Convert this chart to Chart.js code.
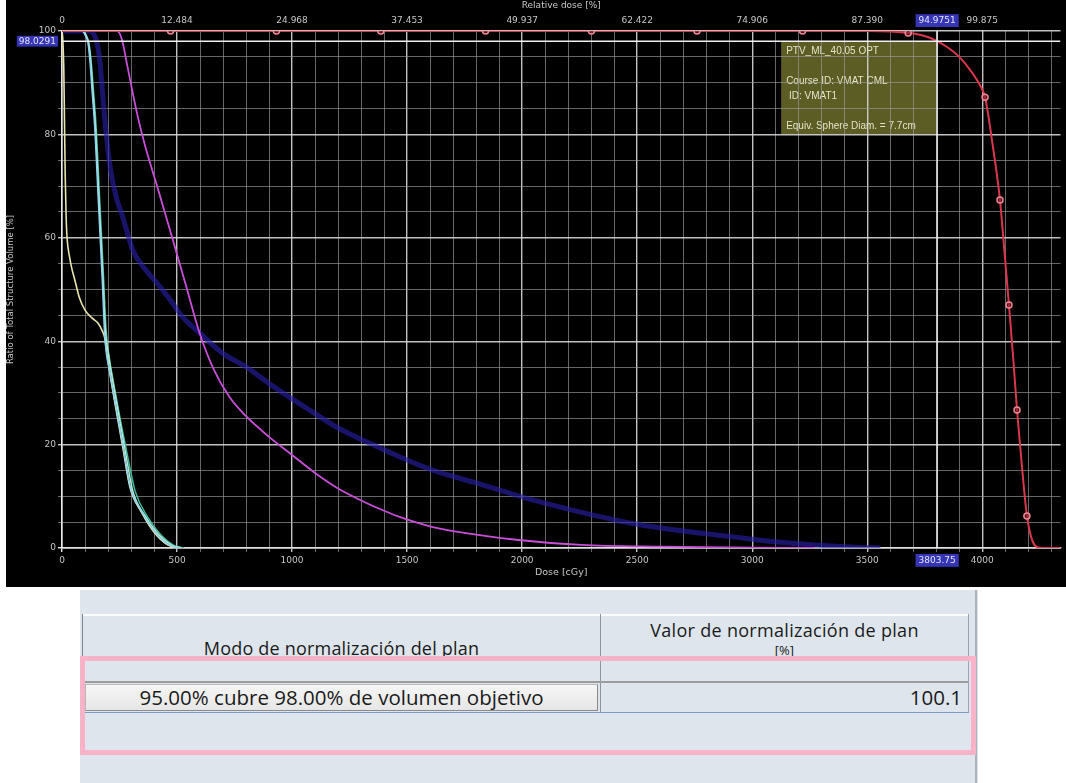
<!DOCTYPE html>
<html><head><meta charset="utf-8">
<script src="https://cdn.jsdelivr.net/npm/chart.js@4"></script>
<style>
html,body{margin:0;padding:0;background:#fff;width:1066px;height:783px;overflow:hidden;}
#plot{position:absolute;left:6px;top:0;width:1060px;height:587px;background:#000;}
#panel{position:absolute;left:80px;top:590px;width:898px;height:193px;background:#dee5ed;font-family:'Open Sans',sans-serif;color:#1b1b1b;}
#panel div{position:absolute;box-sizing:border-box;}
.t{font-size:18px;line-height:22px;white-space:nowrap;}
</style></head>
<body>
<div id="plot"><canvas id="c" width="1060" height="587"></canvas></div>
<div id="panel">
  <div style="left:2px;top:24px;width:886px;height:2px;background:#fbfcfd"></div>
  <div style="left:2px;top:24px;width:1px;height:99px;background:#7b838c"></div>
  <div style="left:520px;top:24px;width:1px;height:99px;background:#8d96a0"></div>
  <div style="left:888px;top:24px;width:1px;height:99px;background:#9ba4ae"></div>
  <div style="left:895px;top:0;width:2px;height:193px;background:#aab3bd"></div>
  <div style="left:3px;top:91px;width:885px;height:2px;background:#9c9c9c"></div>
  <div class="t" style="left:3px;width:517px;top:47px;text-align:center;letter-spacing:0.2px">Modo de normalización del plan</div>
  <div class="t" style="left:521px;width:367px;top:29px;text-align:center;letter-spacing:0.3px">Valor de normalización de plan</div>
  <div class="t" style="left:521px;width:367px;top:49px;text-align:center;font-size:13px">[%]</div>
  <div style="left:5px;top:94px;width:513px;height:27px;background:linear-gradient(#f6f6f6,#e6e6e6);border:1px solid #b8b8b8;border-right-color:#8a8a8a;border-bottom-color:#8a8a8a"></div>
  <div class="t" style="left:5px;width:513px;top:95px;text-align:center;font-size:20.5px;line-height:24px">95.00% cubre 98.00% de volumen objetivo</div>
  <div class="t" style="left:521px;width:361px;top:95px;text-align:right;font-size:20.5px;line-height:24px">100.1</div>
  <div style="left:3px;top:122px;width:886px;height:1px;background:#7e9bc3"></div>
  <div style="left:0;top:66px;width:896px;height:99px;border:5px solid #f8b3c9"></div>
</div>
<script>
// ---- data (dose in cGy, volume in %) ----
const doseMajorTicks = [0,500,1000,1500,2000,2500,3000,3500,4000];
const relativeTickLabels = ['0','12.484','24.968','37.453','49.937','62.422','74.906','87.390','99.875'];
const cursorDose = 3803.75;
const cursorVolume = 98.0291;
const cursorRelativeLabel = '94.9751';
const doseMax = 4340;

const ptvDose   = [0,3500,3600,3700,3760,3803.75,3850,3900,3950,3990,4012,4045,4077,4097,4116,4134,4151,4172,4194,4210,4225,4245,4260,4340];
const ptvVolume = [100,100,99.9,99.5,98.9,98.03,96.8,95,92.3,89.5,87.2,78,67.3,57,47,37,26.7,16,6.2,2.5,0.7,0.1,0,0];
const ptvMarkerDose   = [472,932,1386,1841,2301,2760,3219,3678,4012,4077,4116,4151,4194];
const ptvMarkerVolume = [100,100,100,100,100,100,100,99.6,87.2,67.3,47,26.7,6.2];

const cyanDose   = [0,88,100,113,122,130,143,155,165,175,186,210,240,266,297,350,408,465,510];
const cyanVolume = [100,100,99.3,97.7,94,89,81,70,61,52,41,33.5,26,19.5,11.8,6.8,2.9,0.6,0];

const mintDose   = [0,90,103,116,125,133,146,158,168,178,189,200,222,250,276,308,360,420,478,520];
const mintVolume = [100,100,99.3,97.5,94,89,81,70,61,52,42,38,32,25,18.5,11,6.3,2.6,0.5,0];

const tealDose   = [0,92,105,118,127,136,149,161,171,181,192,205,228,257,284,318,372,432,490,530];
const tealVolume = [100,100,99.2,97.4,94,89,81,70,61,52,42,37,31,24,18,11,6,2.4,0.4,0];

const yellowDose   = [0,4,8,11,14,18,22,32,43,56,75,100,130,156,175,186,197,208,238,264,295,347,403,459,503];
const yellowVolume = [100,98,92,82,72,64,60,56.5,54,51.8,48.5,46,44.5,43.5,42,40.6,37,33.8,26,19.5,11.8,6.8,2.9,0.6,0];

const magentaDose   = [0,240,250,260,270,285,303,330,360,420,481,540,598,660,728,800,900,1000,1100,1200,1300,1400,1464,1607,1800,1984,2257,2600,3000,3271];
const magentaVolume = [100,100,99.6,98.4,96.5,93,89,83.3,78,69,59.7,50.6,41.6,34.5,29.2,25.5,21.5,18,14.5,11.5,9.2,7.2,6.05,4.1,2.6,1.55,0.6,0.25,0.08,0];

const blueDose   = [0,120,150,165,178,190,208,235,264,308,360,412,470,524,598,700,802,900,988,1100,1200,1350,1464,1607,1800,1998,2250,2475,2700,2907,3100,3271,3450,3557];
const blueVolume = [100,100,98,94,87,81,74,68,64,57.6,54,51.3,48,44.7,41.6,37.6,35,31.8,29.2,26,23.2,20,17.7,15.1,12.6,9.9,7,4.8,3.3,2.2,1.2,0.6,0.15,0];

const infoLines = ['PTV_ML_40.05 OPT','','Course ID: VMAT CML',' ID: VMAT1','','Equiv. Sphere Diam. = 7.7cm'];

// ---- helpers ----
const pts = (xs, ys) => xs.map((x, i) => ({x, y: ys[i]}));
const curve = (label, xs, ys, color, width) => ({
  label, data: pts(xs, ys), borderColor: color, borderWidth: width,
  pointRadius: 0, cubicInterpolationMode: 'monotone', fill: false
});
const tickColor = '#c6c6c6';
const tickFont = {family: 'DejaVu Sans', size: 9};
const hiBlue = '#3535b5';

const infoBoxPlugin = {
  id: 'infoBox',
  beforeDraw(chart) {
    const {ctx, scales} = chart;
    const right = scales.x.getPixelForValue(cursorDose);
    const top = scales.y.getPixelForValue(cursorVolume);
    const w = 156, h = 93;
    ctx.save();
    ctx.fillStyle = 'rgba(118,118,48,0.78)';
    ctx.fillRect(right - w, top, w, h);
    ctx.fillStyle = '#e4e4c6';
    ctx.font = '10px "Liberation Sans"';
    ctx.textBaseline = 'middle';
    infoLines.forEach((s, i) => { if (s) ctx.fillText(s, right - w + 5, top + 10 + i * 15); });
    ctx.restore();
  }
};

const datasets = [
  {label:'cursorV', data: pts([cursorDose, cursorDose],[0,100]), borderColor:'#f2f2f2', borderWidth:1.5, pointRadius:0, tension:0},
  {label:'cursorH', data: pts([0, doseMax],[cursorVolume, cursorVolume]), borderColor:'#f2f2f2', borderWidth:1.5, pointRadius:0, tension:0},
  {label:'PTV markers', data: pts(ptvMarkerDose, ptvMarkerVolume), showLine:false, pointRadius:3, pointStyle:'circle',
   pointBorderColor:'#ee8596', pointBackgroundColor:'rgba(120,30,40,0.6)', pointBorderWidth:1.5},
  curve('PTV_ML_40.05 OPT', ptvDose, ptvVolume, '#d9374b', 2),
  curve('cyan', cyanDose, cyanVolume, '#8fd3ee', 1.6),
  curve('mint', mintDose, mintVolume, '#b4ecd2', 1.5),
  curve('teal', tealDose, tealVolume, '#3fb79c', 1.5),
  curve('yellow', yellowDose, yellowVolume, '#e8e4ac', 1.6),
  curve('magenta', magentaDose, magentaVolume, '#c84ed8', 1.8),
  curve('blue', blueDose, blueVolume, 'rgba(40,32,170,0.62)', 5)
];

new Chart(document.getElementById('c'), {
  type: 'line',
  data: { datasets },
  plugins: [infoBoxPlugin],
  options: {
    responsive: false, animation: false, parsing: true,
    layout: { padding: { right: 2, left: 0, top: 0, bottom: 0 } },
    plugins: { legend: {display:false}, tooltip: {enabled:false} },
    scales: {
      x: {
        type: 'linear', position: 'bottom', min: 0, max: doseMax,
        afterFit: s => { s.height = 39; },
        afterBuildTicks: s => {
          const t = [];
          for (let v = 0; v <= 4300; v += 100) t.push({value: v});
          t.push({value: cursorDose});
          t.sort((a, b) => a.value - b.value);
          s.ticks = t;
        },
        ticks: {
          autoSkip: false, maxRotation: 0, font: tickFont, padding: 3,
          color: c => c.tick && c.tick.value === cursorDose ? '#e6e6ff' : tickColor,
          showLabelBackdrop: true,
          backdropColor: c => c.tick && c.tick.value === cursorDose ? hiBlue : 'rgba(0,0,0,0)',
          backdropPadding: {x: 3, y: 1},
          callback: v => v === cursorDose ? String(cursorDose) : (v % 500 === 0 ? String(v) : '')
        },
        grid: {
          drawTicks: true, tickLength: 4,
          color: c => { const v = c.tick && c.tick.value; if (v === cursorDose) return 'rgba(0,0,0,0)'; return v === 0 ? '#e8e8e8' : (v % 500 === 0 ? 'rgba(220,220,220,0.88)' : 'rgba(155,155,155,0.66)'); },
          lineWidth: c => (c.tick && c.tick.value % 500 === 0) ? 1.4 : 1
        },
        border: { display: true, color: '#e0e0e0', width: 1.5 },
        title: { display: true, text: 'Dose [cGy]', color: tickColor, font: {family:'DejaVu Sans', size: 9.5}, padding: {top: 0, bottom: 9} }
      },
      x2: {
        type: 'linear', position: 'top', min: 0, max: doseMax,
        afterFit: s => { s.height = 31; },
        afterBuildTicks: s => {
          const t = doseMajorTicks.map(v => ({value: v}));
          t.push({value: cursorDose});
          t.sort((a, b) => a.value - b.value);
          s.ticks = t;
        },
        ticks: {
          autoSkip: false, maxRotation: 0, font: tickFont, padding: 5,
          color: c => c.tick && c.tick.value === cursorDose ? '#e6e6ff' : tickColor,
          showLabelBackdrop: true,
          backdropColor: c => c.tick && c.tick.value === cursorDose ? hiBlue : 'rgba(0,0,0,0)',
          backdropPadding: {x: 3, y: 1},
          callback: v => { const i = doseMajorTicks.indexOf(v); return i >= 0 ? relativeTickLabels[i] : (v === cursorDose ? cursorRelativeLabel : ''); }
        },
        grid: { drawOnChartArea: false, drawTicks: false },
        border: { display: false },
        title: { display: true, text: 'Relative dose [%]', color: tickColor, font: {family:'DejaVu Sans', size: 9}, padding: {top: 0, bottom: 0} }
      },
      y: {
        type: 'linear', position: 'left', min: 0, max: 100,
        afterFit: s => { s.width = 56; },
        afterBuildTicks: s => {
          const t = [];
          for (let v = 0; v <= 100; v += 5) t.push({value: v});
          t.push({value: cursorVolume});
          t.sort((a, b) => a.value - b.value);
          s.ticks = t;
        },
        ticks: {
          autoSkip: false, font: tickFont, padding: 2,
          color: c => c.tick && c.tick.value === cursorVolume ? '#e6e6ff' : tickColor,
          showLabelBackdrop: true,
          backdropColor: c => c.tick && c.tick.value === cursorVolume ? hiBlue : 'rgba(0,0,0,0)',
          backdropPadding: {x: 2, y: 0},
          callback: v => v === cursorVolume ? String(cursorVolume) : (v % 20 === 0 ? String(v) : '')
        },
        grid: {
          drawTicks: true, tickLength: 4,
          color: c => { const v = c.tick && c.tick.value; if (v === cursorVolume) return 'rgba(0,0,0,0)'; return v === 0 ? '#e8e8e8' : (v % 20 === 0 ? 'rgba(220,220,220,0.88)' : 'rgba(155,155,155,0.66)'); },
          lineWidth: c => (c.tick && c.tick.value % 20 === 0) ? 1.4 : 1
        },
        border: { display: true, color: '#e8e8e8', width: 1.5 },
        title: { display: true, text: 'Ratio of Total Structure Volume [%]', color: tickColor, font: {family:'DejaVu Sans', size: 8.5}, padding: {top: 0, bottom: 0} }
      }
    }
  }
});
</script>
</body></html>
